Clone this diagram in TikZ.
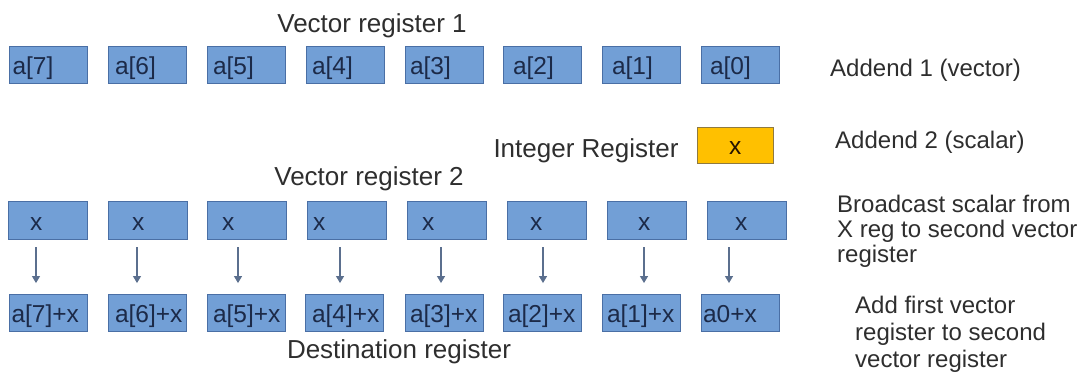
\documentclass[tikz,border=0pt]{standalone}
\usepackage{fontspec}
\setmainfont{Liberation Sans}
\usetikzlibrary{arrows.meta}
\definecolor{regfill}{HTML}{729FD6}
\definecolor{regline}{HTML}{4A6FA5}
\definecolor{regtext}{HTML}{1C2A48}
\definecolor{intfill}{HTML}{FFC000}
\definecolor{intline}{HTML}{8F7A40}
\definecolor{arrowcol}{HTML}{5B6F8E}
\definecolor{labeltext}{HTML}{2E2E2E}
\tikzset{
  reg/.style={draw=regline, fill=regfill, line width=0.9pt, inner sep=0pt,
    minimum height=37pt, text width=78pt, minimum width=78pt, align=left,
    text height=21pt, text depth=1pt, text=regtext,
    font=\fontsize{24.5}{26}\selectfont},
  vreg/.style={reg, minimum width=79pt, text width=79pt, minimum height=38pt},
  intreg/.style={reg, draw=intline, fill=intfill, text=black!85!orange,
    text width=76pt, minimum width=76pt, minimum height=36pt},
  title/.style={inner sep=0pt, text=labeltext, anchor=base,
    font=\fontsize{26}{28}\selectfont},
  note/.style={inner sep=0pt, text=labeltext, anchor=base west, align=left,
    font=\fontsize{24}{25}\selectfont},
  bcast/.style={draw=arrowcol, line width=1.2pt,
    -{Triangle[width=8pt,length=7pt]}}
}
\newcommand{\ind}[1]{\hspace*{#1pt}}
\begin{document}
\begin{tikzpicture}[x=1pt,y=-1pt]
  \useasboundingbox (0,0) rectangle (1081,372);

  % first source register a[7]..a[0]
  \node[reg] (a7) at (48.5,64.5)  {\ind{3}a[7]};
  \node[reg] (a6) at (147,64.5)   {\ind{7}a[6]};
  \node[reg] (a5) at (246,64.5)   {\ind{6}a[5]};
  \node[reg] (a4) at (345,64.5)   {\ind{6}a[4]};
  \node[reg] (a3) at (444,64.5)   {\ind{5}a[3]};
  \node[reg] (a2) at (542,64.5)   {\ind{10}a[2]};
  \node[reg] (a1) at (641,64.5)   {\ind{10}a[1]};
  \node[reg] (a0) at (740,64.5)   {\ind{9}a[0]};

  % scalar in the integer register
  \node[intreg, text height=20pt, text depth=1pt] (xr) at (735,145) {\ind{32}x};
  \node[title] (intlbl) at (586,157) {Integer Register};

  % broadcast copies of x
  \node[vreg] (x7) at (47.5,220)  {\ind{22}x};
  \node[vreg] (x6) at (147.5,220) {\ind{24}x};
  \node[vreg] (x5) at (246.5,220) {\ind{15}x};
  \node[vreg] (x4) at (346.5,220) {\ind{6}x};
  \node[vreg] (x3) at (446.5,220) {\ind{15}x};
  \node[vreg] (x2) at (546.5,220) {\ind{23}x};
  \node[vreg] (x1) at (646.5,220) {\ind{31}x};
  \node[vreg] (x0) at (746.5,220) {\ind{28}x};

  % destination register
  \node[reg, text height=20pt, text depth=2pt] (s7) at (48.5,313)  {\ind{2}a[7]+x};
  \node[reg, text height=20pt, text depth=2pt] (s6) at (147,313)   {\ind{7}a[6]+x};
  \node[reg, text height=20pt, text depth=2pt] (s5) at (246,313)   {\ind{6}a[5]+x};
  \node[reg, text height=20pt, text depth=2pt] (s4) at (344,313)   {\ind{7}a[4]+x};
  \node[reg, text height=20pt, text depth=2pt] (s3) at (444,313)   {\ind{5}a[3]+x};
  \node[reg, text height=20pt, text depth=2pt] (s2) at (542,313)   {\ind{5}a[2]+x};
  \node[reg, text height=20pt, text depth=2pt] (s1) at (641,313)   {\ind{5}a[1]+x};
  \node[reg, text height=20pt, text depth=2pt] (s0) at (740,313)   {\ind{2}a0+x};

  % element-wise arrows from the broadcast register to the result
  \foreach \i/\dx in {7/-11.5, 6/-10.5, 5/-8.5, 4/-6.5, 3/-5.5, 2/-3.5, 1/-2.5, 0/-17.5} {
    \draw[bcast] ([xshift=\dx pt, yshift=-8pt]x\i.south)
      -- ([xshift=\dx pt, yshift=11pt]x\i.south |- s\i.north);
  }

  % register titles
  \node[title] (t1) at (372,32)  {Vector register 1};
  \node[title] (t2) at (369,185) {Vector register 2};
  \node[title] (t3) at (399,358) {Destination register};

  % step descriptions (anchored at the baseline of the last line)
  \node[note] (n1) at (830,76)  {Addend 1 (vector)};
  \node[note] (n2) at (835,148) {Addend 2 (scalar)};
  \node[note] (n3) at (837,262) {Broadcast scalar from\\X reg to second vector\\register};
  \node[note, font=\fontsize{24}{27}\selectfont] (n4) at (855,367)
    {Add first vector\\register to second\\vector register};
\end{tikzpicture}
\end{document}
